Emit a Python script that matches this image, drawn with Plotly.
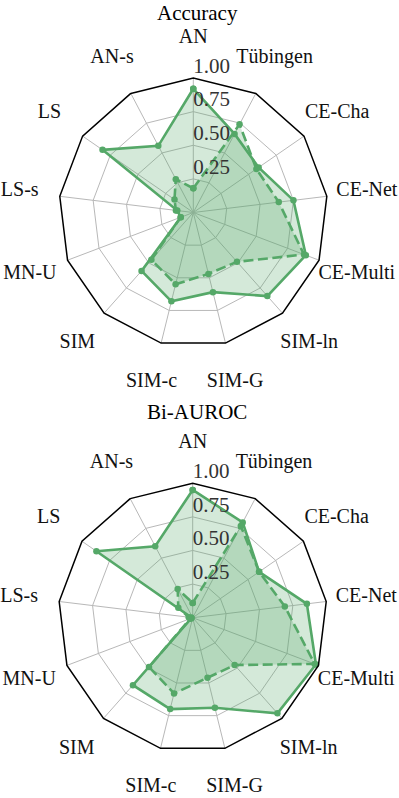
import plotly.graph_objects as go

categories = ["AN", "Tübingen", "CE-Cha", "CE-Net", "CE-Multi", "SIM-ln", "SIM-G",
              "SIM-c", "SIM", "MN-U", "LS-s", "LS", "AN-s"]

acc_solid = [0.92, 0.66, 0.59, 0.75, 0.895, 0.83, 0.61, 0.68, 0.58, 0.10, 0.12, 0.82, 0.56]
acc_dashed = [0.18, 0.74, 0.57, 0.64, 0.88, 0.49, 0.47, 0.55, 0.47, 0.10, 0.13, 0.17, 0.28]

auc_solid = [0.95, 0.80, 0.60, 0.855, 0.98, 0.95, 0.69, 0.70, 0.67, 0.01, 0.01, 0.87, 0.60]
auc_dashed = [0.11, 0.77, 0.60, 0.69, 0.97, 0.47, 0.46, 0.58, 0.49, 0.02, 0.03, 0.13, 0.24]

radial_ticks = [0.0, 0.25, 0.5, 0.75, 1.0]
radial_ticklabels = ["0.00", "0.25", "0.50", "0.75", "1.00"]
titles = ["Accuracy", "Bi-AUROC"]

GREEN = "#55A868"
FILL = "rgba(85,168,104,0.25)"
FONT = "Liberation Serif"
LABEL_SCALE = 1.3  # category labels sit at 1.3 x the outer radius

W, H = 399, 798
R = 134.5
centers = [(193.3, 212.5), (192.7, 617.7)]


def dom(cx, cy, rad):
    return dict(x=[(cx - rad) / W, (cx + rad) / W], y=[1 - (cy + rad) / H, 1 - (cy - rad) / H])


def closed(vals):
    return list(vals) + [vals[0]]


fig = go.Figure()

panels = [("polar", "polar3", acc_solid, acc_dashed), ("polar2", "polar4", auc_solid, auc_dashed)]
for sub, lab_sub, solid, dashed in panels:
    theta = closed(categories)
    fig.add_trace(go.Scatterpolar(
        r=closed(solid), theta=theta, subplot=sub, mode="lines+markers",
        line=dict(color=GREEN, width=2.6), marker=dict(size=6.5, color=GREEN),
        fill="toself", fillcolor=FILL, hoverinfo="skip", showlegend=False))
    fig.add_trace(go.Scatterpolar(
        r=closed(dashed), theta=theta, subplot=sub, mode="lines+markers",
        line=dict(color=GREEN, width=2.6, dash="10px,4.5px"), marker=dict(size=6.5, color=GREEN),
        fill="toself", fillcolor=FILL, hoverinfo="skip", showlegend=False))
    # radial tick labels along the first spoke
    fig.add_trace(go.Scatterpolar(
        r=radial_ticks, theta=[categories[0]] * len(radial_ticks), subplot=sub,
        mode="text", text=radial_ticklabels, textposition="top right", cliponaxis=False,
        textfont=dict(family=FONT, size=21, color="#333333"),
        hoverinfo="skip", showlegend=False))
    # category labels, centred on a ring outside the polygon (overlay polar)
    fig.add_trace(go.Scatterpolar(
        r=[1.0] * len(categories), theta=categories, subplot=lab_sub, mode="text",
        text=categories, textposition="middle center", cliponaxis=False,
        textfont=dict(family=FONT, size=20, color="#111111"),
        hoverinfo="skip", showlegend=False))

polar_common = dict(
    bgcolor="white",
    gridshape="linear",
    radialaxis=dict(range=[0, 1], tickvals=radial_ticks, showticklabels=False,
                    showline=False, ticks="", gridcolor="#b8b8b8", gridwidth=1.3),
    angularaxis=dict(type="category", categoryarray=categories, direction="clockwise",
                     rotation=90, showticklabels=False, ticks="", showline=True,
                     linecolor="black", linewidth=1.5, gridcolor="#b8b8b8", gridwidth=1.3),
)

label_polar = dict(
    bgcolor="rgba(0,0,0,0)",
    gridshape="linear",
    radialaxis=dict(range=[0, 1], visible=False, showgrid=False),
    angularaxis=dict(type="category", categoryarray=categories, direction="clockwise",
                     rotation=90, showticklabels=False, ticks="", showline=False,
                     showgrid=False),
)

fig.update_layout(
    width=W, height=H,
    margin=dict(l=0, r=0, t=0, b=0),
    paper_bgcolor="white",
    polar=dict(domain=dom(*centers[0], R), **polar_common),
    polar2=dict(domain=dom(*centers[1], R), **polar_common),
    polar3=dict(domain=dom(*centers[0], R * LABEL_SCALE), **label_polar),
    polar4=dict(domain=dom(*centers[1], R * LABEL_SCALE), **label_polar),
    annotations=[
        dict(text=titles[0], x=197 / W, y=1 - 13 / H, xref="paper", yref="paper",
             xanchor="center", yanchor="middle", showarrow=False,
             font=dict(family=FONT, size=21, color="black")),
        dict(text=titles[1], x=197 / W, y=1 - 412 / H, xref="paper", yref="paper",
             xanchor="center", yanchor="middle", showarrow=False,
             font=dict(family=FONT, size=21, color="black")),
    ],
)

fig.write_html("out.html", config={"displayModeBar": False},
               post_script="document.body.style.margin='0';")
